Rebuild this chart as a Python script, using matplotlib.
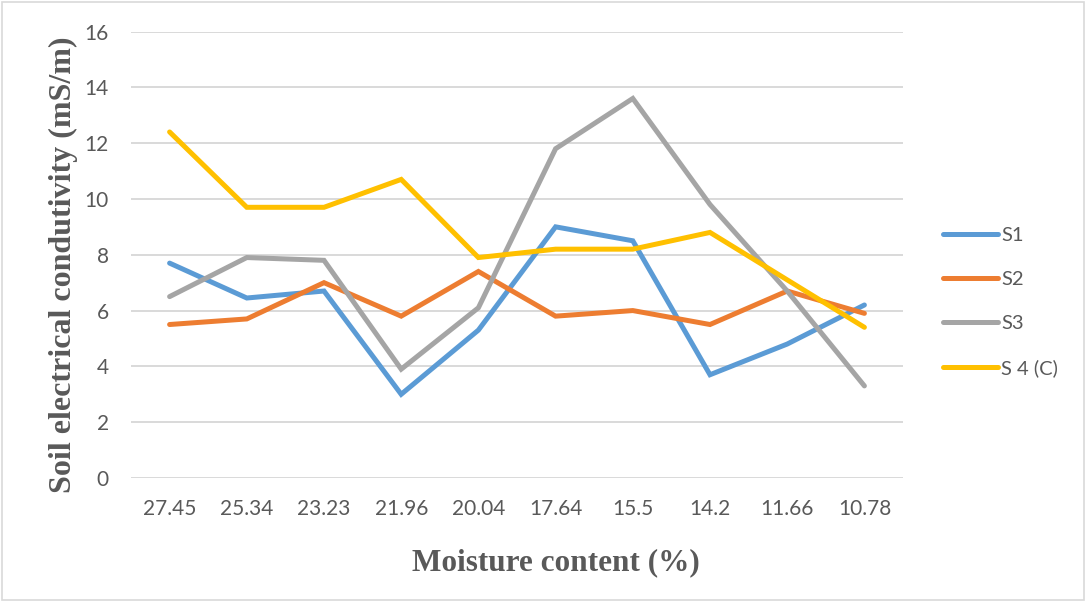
import matplotlib.pyplot as plt
from matplotlib.patches import Rectangle

moisture = ["27.45", "25.34", "23.23", "21.96", "20.04", "17.64", "15.5", "14.2", "11.66", "10.78"]
s1 = [7.7, 6.45, 6.7, 3.0, 5.3, 9.0, 8.5, 3.7, 4.8, 6.2]
s2 = [5.5, 5.7, 7.0, 5.8, 7.4, 5.8, 6.0, 5.5, 6.7, 5.9]
s3 = [6.5, 7.9, 7.8, 3.9, 6.1, 11.8, 13.6, 9.8, 6.7, 3.3]
s4 = [12.4, 9.7, 9.7, 10.7, 7.9, 8.2, 8.2, 8.8, 7.1, 5.4]

series = [("S1", s1, "#5B9BD5"), ("S2", s2, "#ED7D31"),
          ("S3", s3, "#A5A5A5"), ("S 4 (C)", s4, "#FFC000")]

tick_font = ["Lato", "DejaVu Sans"]
grey = "#595959"

fig = plt.figure(figsize=(10.86, 6.02), dpi=100)
ax = fig.add_axes([131 / 1086, 1 - 478 / 602, 772 / 1086, 446.5 / 602])

x = list(range(len(moisture)))
for name, vals, col in series:
    ax.plot(x, vals, color=col, lw=3.6, label=name, solid_capstyle="round", solid_joinstyle="miter")

ax.set_xlim(-0.5, len(moisture) - 0.5)
ax.set_ylim(0, 16)
ax.set_yticks(range(0, 17, 2))
ax.set_xticks(x)
ax.set_xticklabels(moisture)
ax.grid(axis="y", color="#d9d9d9", lw=1.4)
ax.set_axisbelow(True)
for s in ax.spines.values():
    s.set_visible(False)
ax.tick_params(length=0, labelcolor=grey, labelsize=15)
ax.tick_params(axis="y", pad=16)
ax.tick_params(axis="x", pad=15)
for lab in ax.get_xticklabels() + ax.get_yticklabels():
    lab.set_family(tick_font)

# axis titles placed by hand, as in the reference
fig.text(556 / 1086, 1 - 563 / 602, "Moisture content (%)", family="Liberation Serif",
         weight="bold", fontsize=22.5, color=grey, ha="center", va="center")
fig.text(63 / 1086, 1 - 265 / 602, "Soil electrical condutivity (mS/m)", family="Liberation Serif",
         weight="bold", fontsize=23, color=grey, ha="center", va="center", rotation=90)

leg = fig.legend(loc="center left", bbox_to_anchor=(943 / 1086, 1 - 302 / 602),
                 frameon=False, handlelength=2.75, handletextpad=0.15,
                 labelspacing=1.35, borderaxespad=0, borderpad=0,
                 prop={"family": tick_font, "size": 14.5})
for t in leg.get_texts():
    t.set_color(grey)

fig.patches.append(Rectangle((2 / 1086, 2 / 602), 1 - 4 / 1086, 1 - 4 / 602,
                             transform=fig.transFigure, fill=False,
                             edgecolor="#d9d9d9", lw=1.2))

fig.savefig("out.png", dpi=100)
